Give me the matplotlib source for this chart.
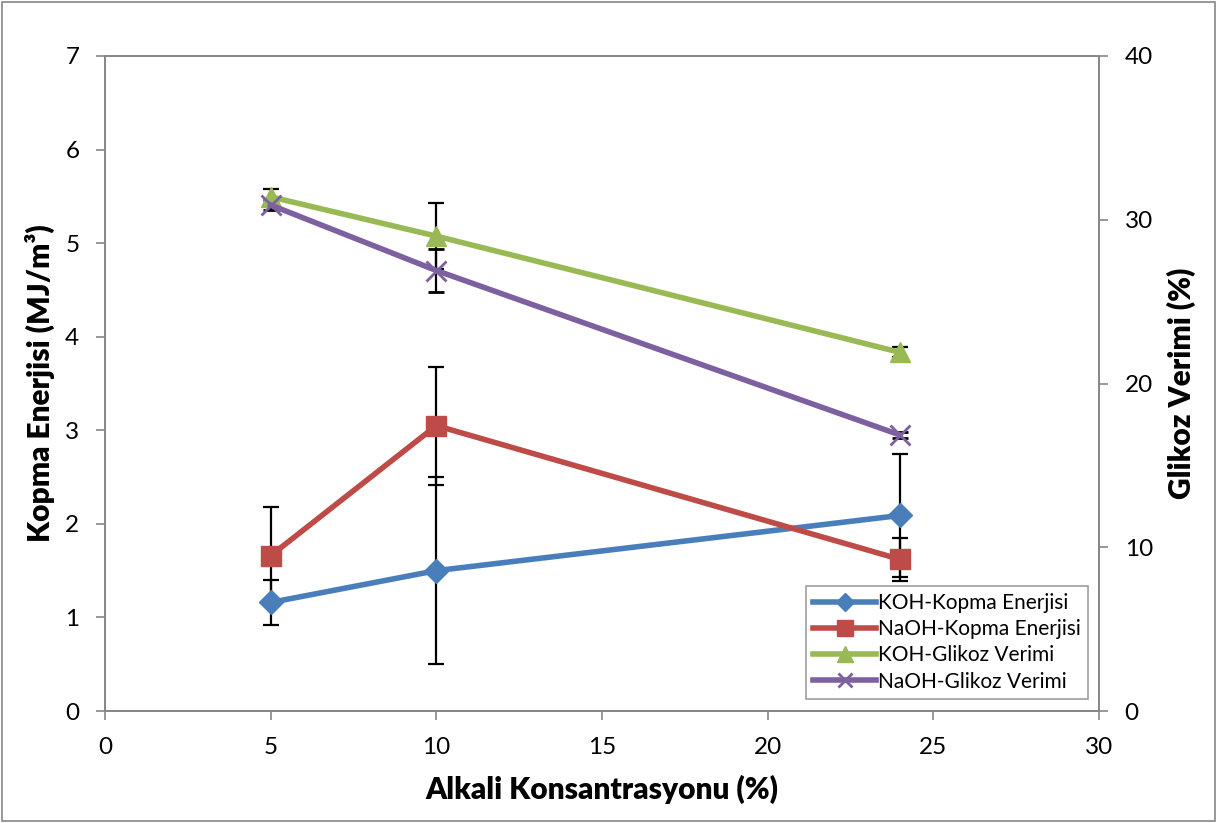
import matplotlib.pyplot as plt
from matplotlib.patches import Rectangle
from matplotlib.lines import Line2D

plt.rcParams['font.family'] = ['Lato', 'DejaVu Sans']

konsantrasyon = [5, 10, 24]

koh_kopma = [1.16, 1.50, 2.09]
koh_kopma_err = [0.24, 1.00, 0.66]
naoh_kopma = [1.66, 3.05, 1.62]
naoh_kopma_err = [0.52, 0.63, 0.23]

koh_glikoz = [31.4, 29.0, 21.9]
koh_glikoz_err = [0.5, 2.0, 0.3]
naoh_glikoz = [30.9, 26.9, 16.85]
naoh_glikoz_err = [0.3, 1.3, 0.2]

blue, red, green, purple = '#4a7ebb', '#be4b48', '#98b954', '#7d60a0'
spine_col = '#868686'

fig = plt.figure(figsize=(12.17, 8.23), dpi=100)
ax = fig.add_axes([105 / 1217, 1 - 711 / 823, 994 / 1217, 655 / 823])
ax2 = ax.twinx()

err_kw = dict(ecolor='black', elinewidth=1.6, capsize=6, capthick=1.6, lw=4)
ax.errorbar(konsantrasyon, koh_kopma, yerr=koh_kopma_err, color=blue, marker='D', ms=12, **err_kw)
ax.errorbar(konsantrasyon, naoh_kopma, yerr=naoh_kopma_err, color=red, marker='s', ms=15, **err_kw)
ax2.errorbar(konsantrasyon, koh_glikoz, yerr=koh_glikoz_err, color=green, marker='^', ms=15, **err_kw)
ax2.errorbar(konsantrasyon, naoh_glikoz, yerr=naoh_glikoz_err, color=purple, marker='x', ms=14, mew=2, **err_kw)

ax.set_xlim(0, 30)
ax.set_ylim(0, 7)
ax2.set_ylim(0, 40)
ax.set_xticks(range(0, 31, 5))
ax.set_yticks(range(0, 8))
ax2.set_yticks(range(0, 41, 10))

for a in (ax, ax2):
    for s in a.spines.values():
        s.set_color(spine_col)
        s.set_linewidth(1.2)
    a.tick_params(labelsize=17.5, length=6.5, width=1.2, color=spine_col, pad=12)

ax.set_xlabel('Alkali Konsantrasyonu (%)', fontsize=21.5, fontweight='heavy', labelpad=12)
ax.set_ylabel('Kopma Enerjisi (MJ/m³)', fontsize=21.5, fontweight='heavy', labelpad=7)
ax2.set_ylabel('Glikoz Verimi (%)', fontsize=21.5, fontweight='heavy', labelpad=10)

handles = [
    Line2D([], [], color=blue, lw=4, marker='D', ms=9),
    Line2D([], [], color=red, lw=4, marker='s', ms=12),
    Line2D([], [], color=green, lw=4, marker='^', ms=12),
    Line2D([], [], color=purple, lw=4, marker='x', ms=10, mew=2),
]
labels = ['KOH-Kopma Enerjisi', 'NaOH-Kopma Enerjisi', 'KOH-Glikoz Verimi', 'NaOH-Glikoz Verimi']
leg = ax2.legend(handles, labels, loc='lower right', bbox_to_anchor=(0.993, 0.012),
                 fontsize=15, frameon=True, fancybox=False, handlelength=3.0,
                 handletextpad=0.1, labelspacing=0.3, borderpad=0.35, borderaxespad=0.2)
leg.get_frame().set_edgecolor(spine_col)
leg.get_frame().set_linewidth(1.2)

fig.patches.append(Rectangle((2 / 1217, 2 / 823), 1 - 4 / 1217, 1 - 4 / 823,
                             transform=fig.transFigure, fill=False, ec=spine_col, lw=1.2))

fig.savefig('out.png', dpi=100)
